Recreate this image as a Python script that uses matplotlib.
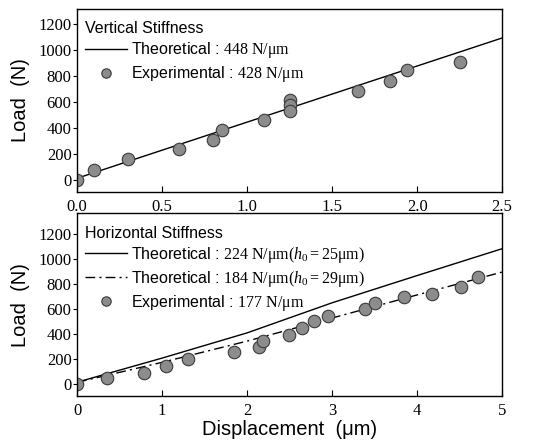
import matplotlib
matplotlib.use('Agg')
import matplotlib.pyplot as plt

plt.rcParams['font.family'] = 'Liberation Sans'
plt.rcParams['mathtext.fontset'] = 'custom'
plt.rcParams['mathtext.rm'] = 'Liberation Serif'
plt.rcParams['mathtext.it'] = 'Liberation Serif:italic'

# vertical stiffness data
v_exp_x = [0.0, 0.10, 0.30, 0.60, 0.80, 0.85, 1.10, 1.25, 1.25, 1.25, 1.65, 1.84, 1.94, 2.25]
v_exp_y = [0, 77, 160, 236, 303, 380, 463, 615, 575, 530, 681, 763, 845, 912]
v_theo_x = [0.0, 2.5]
v_theo_y = [10, 1095]

# horizontal stiffness data
h_exp_x = [0.0, 0.35, 0.79, 1.04, 1.30, 1.85, 2.14, 2.19, 2.49, 2.64, 2.79, 2.95,
           3.39, 3.50, 3.84, 4.18, 4.52, 4.72]
h_exp_y = [0, 50, 92, 145, 198, 255, 295, 343, 395, 452, 507, 550,
           605, 650, 700, 726, 778, 857]
h_theo1_x = [0, 1, 2, 3, 4, 5]
h_theo1_y = [16, 209, 411, 652, 870, 1085]
h_theo2_x = [0, 1, 2, 3, 4, 5]
h_theo2_y = [15, 175, 345, 530, 715, 898]

v_ticks = [0.0, 0.5, 1.0, 1.5, 2.0, 2.5]
h_ticks = [0, 1, 2, 3, 4, 5]
y_ticks = [0, 200, 400, 600, 800, 1000, 1200]

fig = plt.figure(figsize=(5.47, 4.44), dpi=100)
ax1 = fig.add_axes([0.141, 0.568, 0.777, 0.412])
ax2 = fig.add_axes([0.141, 0.108, 0.777, 0.412])

mk = dict(marker='o', linestyle='none', markersize=9, markerfacecolor='#8c8c8c',
          markeredgecolor='#3a3a3a', markeredgewidth=0.8)

ax1.plot(v_theo_x, v_theo_y, color='black', lw=1.0,
         label='Theoretical : $\\mathrm{448\\ N/μm}$')
ax1.plot(v_exp_x, v_exp_y, label='Experimental : $\\mathrm{428\\ N/μm}$', **mk)
ax1.set_xlim(0, 2.5)
ax1.set_ylim(-95, 1320)
ax1.set_xticks(v_ticks)
ax1.set_xticklabels(['{:.1f}'.format(t) for t in v_ticks])

ax2.plot(h_theo1_x, h_theo1_y, color='black', lw=1.0,
         label='Theoretical : $\\mathrm{224\\ N/μm(}h_0\\mathrm{=25μm)}$')
ax2.plot(h_theo2_x, h_theo2_y, color='black', lw=1.0, linestyle=(0, (7, 3, 1.5, 3)),
         label='Theoretical : $\\mathrm{184\\ N/μm(}h_0\\mathrm{=29μm)}$')
ax2.plot(h_exp_x, h_exp_y, label='Experimental : $\\mathrm{177\\ N/μm}$', **mk)
ax2.set_xlim(0, 5)
ax2.set_ylim(-95, 1370)
ax2.set_xticks(h_ticks)
ax2.set_xticklabels([str(t) for t in h_ticks])
ax2.set_xlabel('Displacement  (μm)', fontsize=14.5, labelpad=1)

for ax, title in [(ax1, 'Vertical Stiffness'), (ax2, 'Horizontal Stiffness')]:
    ax.set_yticks(y_ticks)
    ax.set_ylabel('Load  (N)', fontsize=14.5, labelpad=6)
    ax.tick_params(axis='x', direction='in', length=4, pad=5)
    ax.tick_params(axis='y', direction='out', length=3, pad=1)
    for lab in ax.get_xticklabels() + ax.get_yticklabels():
        lab.set_fontfamily('Liberation Serif')
        lab.set_fontsize(12)
    for s in ax.spines.values():
        s.set_linewidth(1.0)
    leg = ax.legend(title=title, loc='upper left', bbox_to_anchor=(0.0, 0.975),
                    frameon=False, fontsize=11.5,
                    title_fontsize=11.5, alignment='left', handlelength=2.6,
                    handletextpad=0.3, labelspacing=0.25, borderaxespad=0.3,
                    borderpad=0.2, markerscale=0.75)

fig.savefig('out.png', dpi=100)
